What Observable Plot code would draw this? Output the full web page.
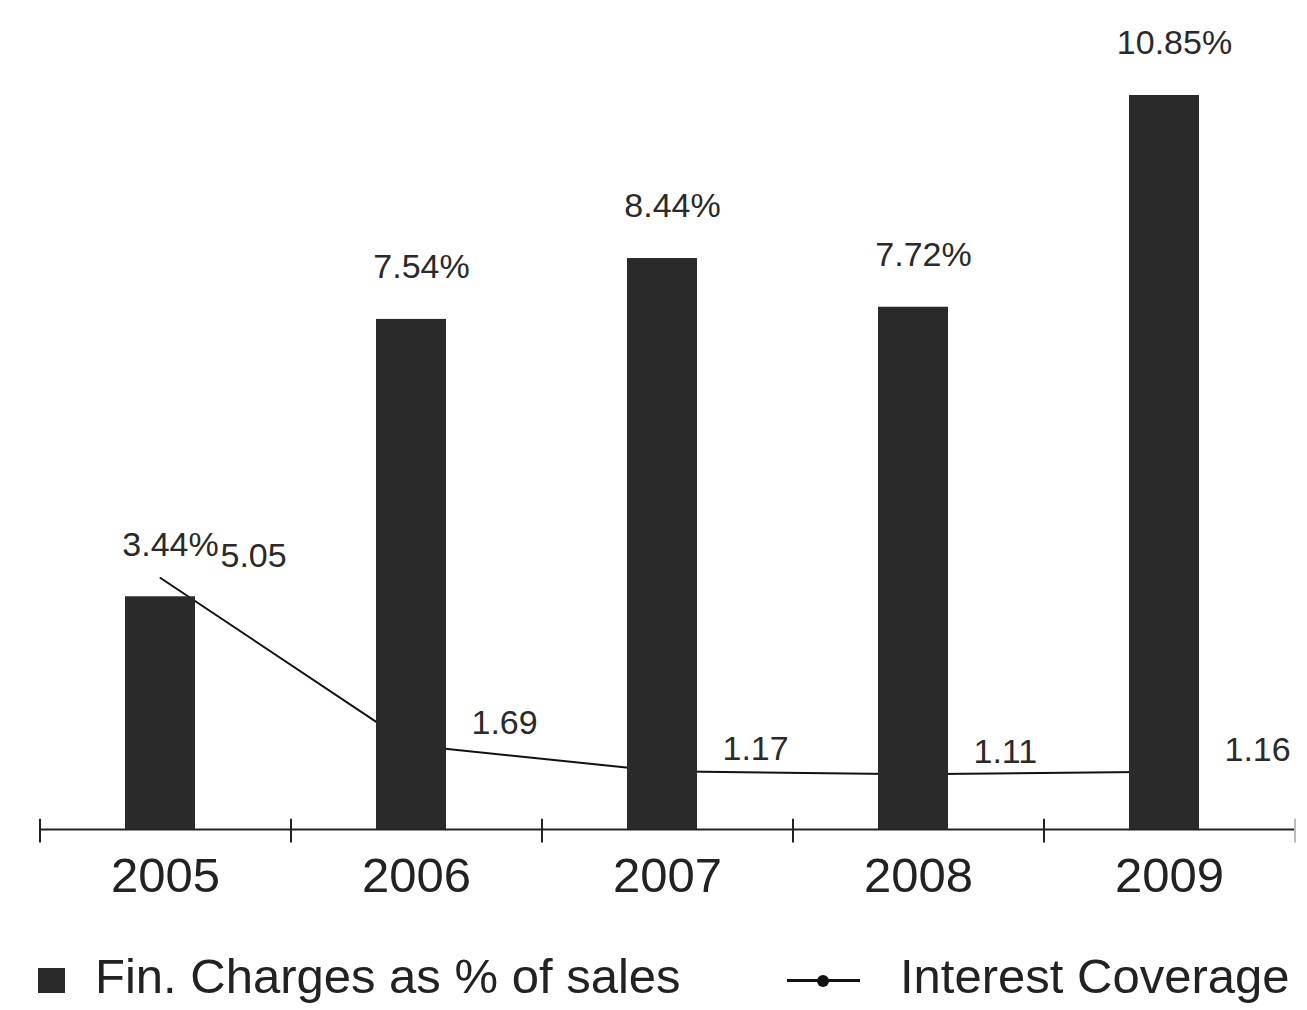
<!DOCTYPE html>
<html>
<head>
<meta charset="utf-8">
<script src="https://cdn.jsdelivr.net/npm/d3@7"></script>
<script src="https://cdn.jsdelivr.net/npm/@observablehq/plot@0.6"></script>
<style>
  html, body { margin: 0; padding: 0; background: #fff; overflow: hidden; }
  #wrap { position: relative; width: 1307px; height: 1010px; font-family: "Liberation Sans", Arial, sans-serif; color: #222; }
  #chart svg { display: block; }
  .legend-item { position: absolute; top: 950px; height: 52px; font-size: 49px; line-height: 52px; white-space: nowrap; color: #222; }
  .swatch-bar { position: absolute; width: 27px; height: 25px; background: #2a2a2a; top: 18px; }
  .swatch-line { position: absolute; width: 73px; height: 3px; background: #111; top: 29px; }
  .swatch-dot { position: absolute; width: 12px; height: 12px; border-radius: 50%; background: #111; top: 25px; left: 30px; }
</style>
</head>
<body>
<div id="wrap">
  <div id="chart"></div>
  <div class="legend-item" style="left:38px;"><span class="swatch-bar" style="left:0"></span><span style="position:absolute;left:57px;">Fin. Charges as % of sales</span></div>
  <div class="legend-item" style="left:787px;"><span class="swatch-line" style="left:0"></span><span class="swatch-dot"></span><span style="position:absolute;left:113px;">Interest Coverage</span></div>
</div>
<script>
// Financial charges as a share of sales (bars) and interest coverage (line), 2005–2009
const years = ["2005", "2006", "2007", "2008", "2009"];
const finCharges = [3.44, 7.54, 8.44, 7.72, 10.85];      // % of sales
const interestCoverage = [5.05, 1.69, 1.17, 1.11, 1.16]; // times

const yMax = 12;            // top of the percentage scale
const coverageMax = 16.3;   // top of the (hidden) coverage scale sharing the same frame

const rows = years.map((year, i) => ({
  year,
  fin: finCharges[i],
  cov: interestCoverage[i]
}));

const width = 1307, height = 930;
const marginLeft = 40, marginRight = 12;
const step = (width - marginLeft - marginRight) / years.length;
const covToY = v => v * yMax / coverageMax;
const font = "Liberation Sans, Arial, sans-serif";

const chart = Plot.plot({
  width,
  height,
  marginLeft,
  marginRight,
  marginTop: 0,
  marginBottom: 0,
  style: { fontFamily: font, background: "#fff" },
  x: { type: "band", domain: years, paddingInner: 0.72, paddingOuter: 0.36, axis: null },
  y: { domain: [0, yMax], range: [829, 829 - yMax * 67.65], axis: null },
  marks: [
    // interest coverage line, drawn first so the bars sit over it
    Plot.line(rows, { x: "year", y: d => covToY(d.cov), dx: -5, stroke: "#111", strokeWidth: 2 }),
    Plot.barY(rows, { x: "year", y: "fin", dx: -5, fill: "#2a2a2a" }),
    // baseline and category separators
    Plot.ruleY([0], { stroke: "#222", strokeWidth: 2 }),
    Plot.ruleX(years, { x: d => d, y1: -0.2, y2: 0.15, dx: -step / 2, stroke: "#222", strokeWidth: 2 }),
    Plot.ruleX([years[years.length - 1]], { x: d => d, y1: -0.2, y2: 0.15, dx: step / 2, stroke: "#bbb", strokeWidth: 2 }),
    // value labels
    Plot.text(rows, { x: "year", y: "fin", text: d => d.fin.toFixed(2) + "%", dy: -52, dx: 5, fontSize: 34, fill: "#2a2a2a" }),
    Plot.text(rows, { x: "year", y: d => covToY(d.cov), text: d => d.cov.toFixed(2), textAnchor: "start", dx: 55, dy: -22, fontSize: 34, fill: "#2a2a2a" }),
    // category labels
    Plot.text(years, { x: d => d, y: 0, dy: 47, fontSize: 49, fill: "#222" })
  ]
});

document.getElementById("chart").appendChild(chart);
</script>
</body>
</html>
